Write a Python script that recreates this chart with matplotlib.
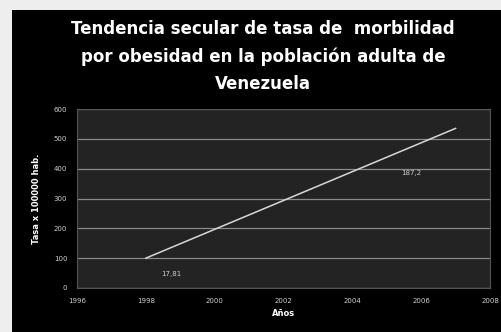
import matplotlib.pyplot as plt
from matplotlib.patches import Rectangle

# trend line (years, rate per 100000)
years = [1998, 2007]
rates = [100, 535]

# data labels shown on the chart
label_texts = ['17,81', '187,2']
label_x = [1998.75, 2005.7]
label_y = [47, 386]

x_ticks = [1996, 1998, 2000, 2002, 2004, 2006, 2008]
y_ticks = [0, 100, 200, 300, 400, 500, 600]

title = ('Tendencia secular de tasa de  morbilidad\n'
         'por obesidad en la población adulta de\n'
         'Venezuela')

fig = plt.figure(figsize=(5.01, 3.32), dpi=100)
fig.patch.set_facecolor('#eeeeee')
fig.add_artist(Rectangle((12 / 501, 0), 1, 1 - 10 / 332, transform=fig.transFigure,
                         facecolor='black', edgecolor='none', zorder=0))

ax = fig.add_axes([77 / 501, 44 / 332, 413 / 501, 179 / 332])
ax.set_facecolor('#232323')
ax.plot(years, rates, color='#d8d8d8', linewidth=1.1)

for t, x, y in zip(label_texts, label_x, label_y):
    ax.text(x, y, t, color='#cfcfcf', fontsize=5, ha='center', va='center')

ax.set_xlim(1996, 2008)
ax.set_ylim(0, 600)
ax.set_xticks(x_ticks)
ax.set_yticks(y_ticks)
ax.grid(axis='y', color='#8a8a8a', linewidth=0.9)
ax.set_axisbelow(True)
ax.tick_params(colors='#cfcfcf', labelsize=5, length=0, pad=7)
for s in ax.spines.values():
    s.set_color('#555555')
    s.set_linewidth(0.8)

ax.set_xlabel('Años', color='white', fontsize=6, fontweight='bold', labelpad=4)
ax.set_ylabel('Tasa x 100000 hab.', color='white', fontsize=6, fontweight='bold', labelpad=9)

fig.text(263 / 501, 1 - 20 / 332, title, color='white', fontsize=12, fontweight='bold',
         ha='center', va='top', linespacing=1.65)

fig.savefig('out.png', dpi=100, facecolor=fig.get_facecolor())
